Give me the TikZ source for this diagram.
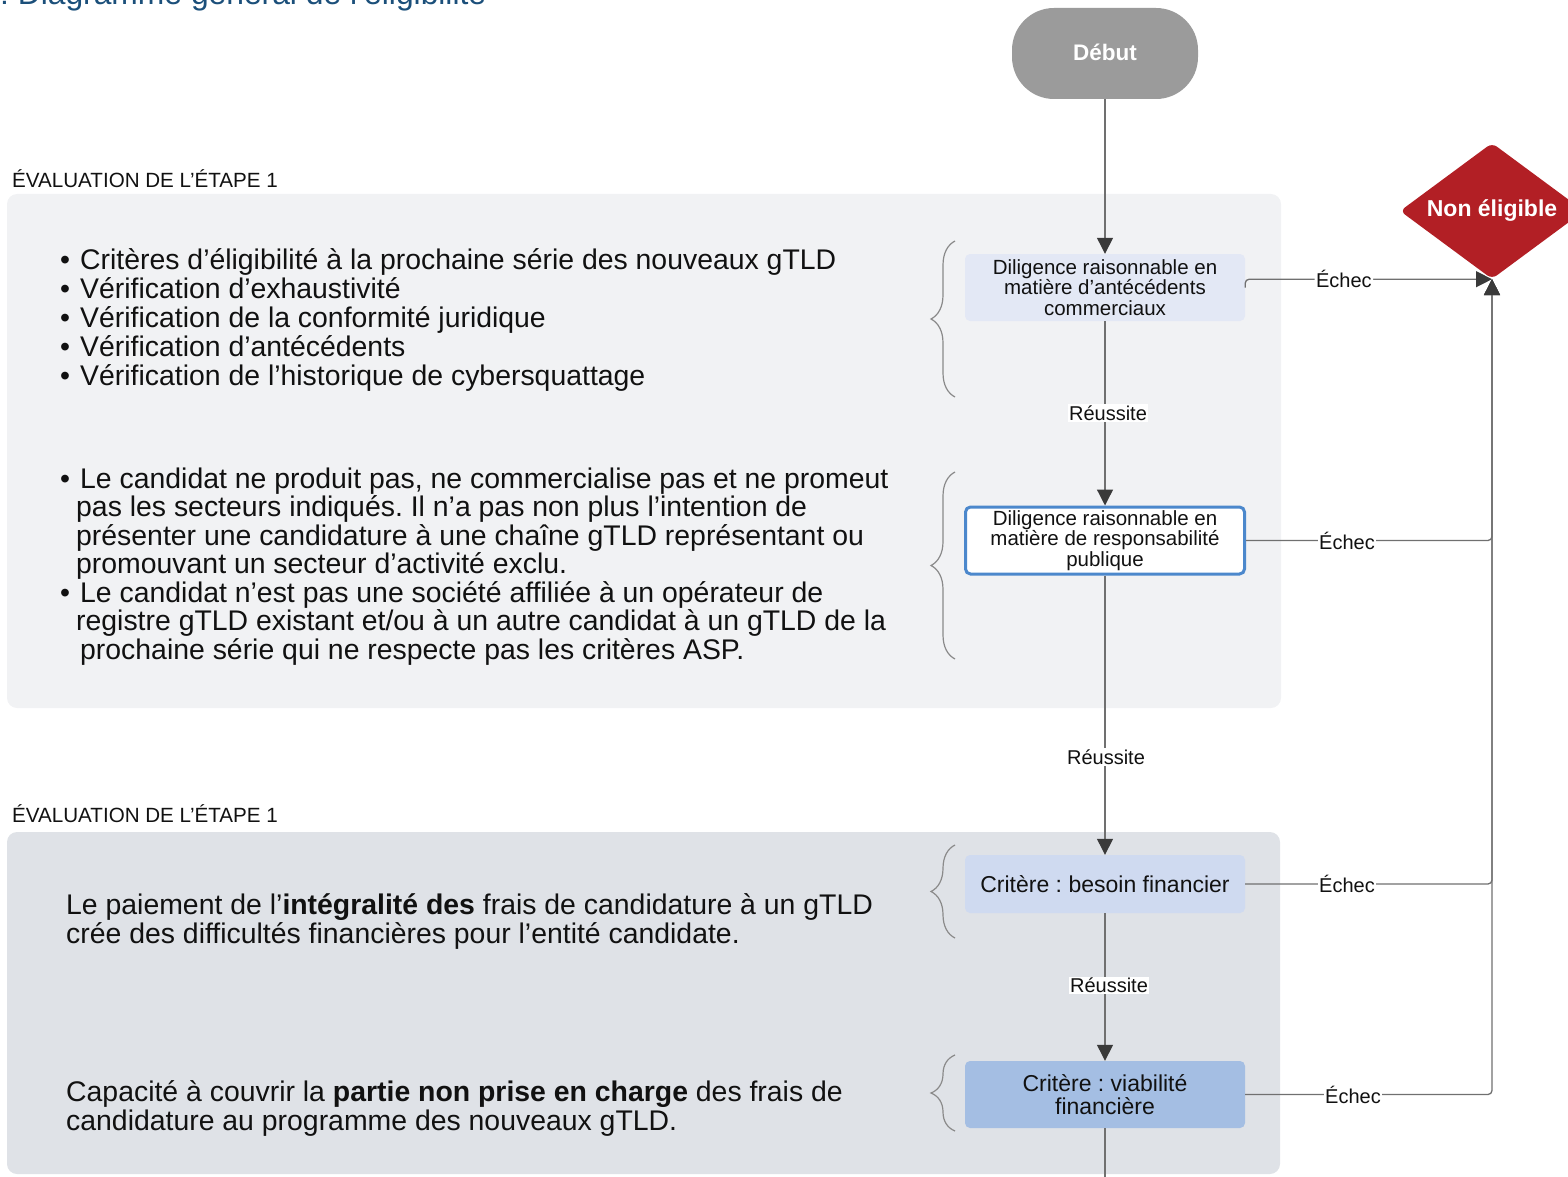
\documentclass[tikz,border=0pt]{standalone}
\usepackage{fontspec}
\setmainfont{Liberation Sans}
\usetikzlibrary{arrows.meta,shapes.geometric,decorations.pathreplacing}
\definecolor{panelA}{HTML}{F1F2F4}
\definecolor{panelB}{HTML}{DFE2E7}
\definecolor{boxA}{HTML}{E3E8F5}
\definecolor{boxBborder}{HTML}{4C88CC}
\definecolor{boxC}{HTML}{CFDAF0}
\definecolor{boxD}{HTML}{A4BEE3}
\definecolor{debutc}{HTML}{9B9B9B}
\definecolor{redc}{HTML}{B21F25}
\definecolor{linec}{HTML}{707070}
\definecolor{arrowc}{HTML}{3A3A3A}
\definecolor{bracec}{HTML}{8A8A8A}
\definecolor{titlec}{HTML}{1B4F7A}
\definecolor{textc}{HTML}{111111}
\frenchspacing
\begin{document}
\begin{tikzpicture}[x=1pt,y=-1pt,
  conn/.style={draw=linec, line width=1.3pt},
  arr/.style={conn, -{Triangle[length=16pt,width=16pt,color=arrowc]}},
  lbl/.style={fill=white, inner sep=1.5pt, text=textc, font=\fontsize{20}{20}\selectfont},
  proc/.style={rounded corners=5pt, minimum width=280pt, align=center, inner sep=0pt, text=textc},
  txt/.style={anchor=base west, inner sep=0pt, text=textc, font=\fontsize{28.4}{29}\selectfont},
  hdr/.style={anchor=base west, inner sep=0pt, text=textc, font=\fontsize{20.6}{21}\selectfont},
  bracestyle/.style={draw=bracec, line width=1.2pt, decorate, decoration={brace, amplitude=24pt}}]
\useasboundingbox (0,0) rectangle (1568,1177);
\clip (0,0) rectangle (1568,1177);

% title (cut at top, as in the reference)
\node[anchor=base west, inner sep=0pt, text=titlec, font=\fontsize{31.8}{32}\selectfont] (title) at (0,5) {: Diagramme général de l’éligibilité};

% panels
\fill[panelA, rounded corners=10pt] (7,194) rectangle (1281,708);
\fill[panelB, rounded corners=10pt] (7,832) rectangle (1280,1174);
\node[hdr] (h1) at (12,187.5) {ÉVALUATION DE L’ÉTAPE 1};
\node[hdr] (h2) at (12,822.5) {ÉVALUATION DE L’ÉTAPE 1};

% left texts, panel 1
\node[txt] (a1) at (60,269) {\makebox[20pt][l]{•}Critères d’éligibilité à la prochaine série des nouveaux gTLD};
\node[txt] (a2) at (60,298) {\makebox[20pt][l]{•}Vérification d’exhaustivité};
\node[txt] (a3) at (60,327) {\makebox[20pt][l]{•}Vérification de la conformité juridique};
\node[txt] (a4) at (60,356) {\makebox[20pt][l]{•}Vérification d’antécédents};
\node[txt] (a5) at (60,385) {\makebox[20pt][l]{•}Vérification de l’historique de cybersquattage};

\node[txt] (b1t) at (60,488) {\makebox[20pt][l]{•}Le candidat ne produit pas, ne commercialise pas et ne promeut};
\node[txt] (b2t) at (76,516.5) {pas les secteurs indiqués. Il n’a pas non plus l’intention de};
\node[txt] (b3t) at (76,545) {présenter une candidature à une chaîne gTLD représentant ou};
\node[txt] (b4t) at (76,573.5) {promouvant un secteur d’activité exclu.};
\node[txt] (b5t) at (60,602) {\makebox[20pt][l]{•}Le candidat n’est pas une société affiliée à un opérateur de};
\node[txt] (b6t) at (76,630.5) {registre gTLD existant et/ou à un autre candidat à un gTLD de la};
\node[txt] (b7t) at (80,659) {prochaine série qui ne respecte pas les critères ASP.};

% left texts, panel 2
\node[txt] (c1t) at (66,914) {Le paiement de l’\textbf{intégralité des} frais de candidature à un gTLD};
\node[txt] (c2t) at (66,943) {crée des difficultés financières pour l’entité candidate.};
\node[txt] (d1t) at (66,1101) {Capacité à couvrir la \textbf{partie non prise en charge} des frais de};
\node[txt] (d2t) at (66,1130) {candidature au programme des nouveaux gTLD.};

% braces
\draw[bracestyle] (955,397) -- (955,241);
\draw[bracestyle] (955,659) -- (955,472);
\draw[bracestyle] (955,938) -- (955,845);
\draw[bracestyle] (955,1131) -- (955,1055);

% flow nodes
\node[rounded corners=42pt, fill=debutc, minimum width=186pt, minimum height=91pt, inner sep=0pt,
      text=white, font=\bfseries\fontsize{22.5}{22.5}\selectfont] (start) at (1105,53.5) {\raisebox{3pt}{Début}};
\node[proc, fill=boxA, minimum height=67pt, font=\fontsize{20.5}{20.5}\selectfont] (b1) at (1105,287.5)
  {Diligence raisonnable en\\matière d'antécédents\\commerciaux};
\node[proc, fill=white, draw=boxBborder, line width=3pt, minimum height=67pt, minimum width=279pt, font=\fontsize{20.5}{20.5}\selectfont] (b2) at (1105,540.5)
  {Diligence raisonnable en\\matière de responsabilité\\publique};
\node[proc, fill=boxC, minimum height=58pt, font=\fontsize{23}{23}\selectfont] (b3) at (1105,884)
  {Critère : besoin financier};
\node[proc, fill=boxD, minimum height=67pt, font=\fontsize{23}{23}\selectfont] (b4) at (1105,1094.5)
  {Critère : viabilité\\financière};
\node[diamond, fill=redc, minimum width=184pt, minimum height=136pt, aspect=1.35, inner sep=0pt,
      rounded corners=6pt, text=white, font=\bfseries\fontsize{23}{23}\selectfont] (ne) at (1492,211) {Non éligible};
\coordinate (bottomend) at (1105,1185);

% vertical flow
\draw[arr] (start) -- (b1);
\draw[arr] (b1) -- node[lbl, pos=0.5, xshift=3pt] {Réussite} (b2);
\draw[arr] (b2) -- node[lbl, pos=0.65, xshift=1pt] {Réussite} (b3);
\draw[arr] (b3) -- node[lbl, pos=0.49, xshift=4pt] {Réussite} (b4);
\draw[conn] (b4) -- (bottomend);

% failure connectors
\draw[arr, rounded corners=4pt] (b4.east) -| (ne.south);
\draw[arr, rounded corners=4pt] (b3.east) -| (ne.south);
\draw[arr, rounded corners=4pt] (b2.east) -| (ne.south);
\draw[arr, rounded corners=4pt] (b1.east) |- node[lbl, pos=0.7] {Échec} (ne.south);
\node[lbl] (e2) at (1347,540.5) {Échec};
\node[lbl] (e3) at (1347,884) {Échec};
\node[lbl] (e4) at (1353,1094.5) {Échec};
\end{tikzpicture}
\end{document}
